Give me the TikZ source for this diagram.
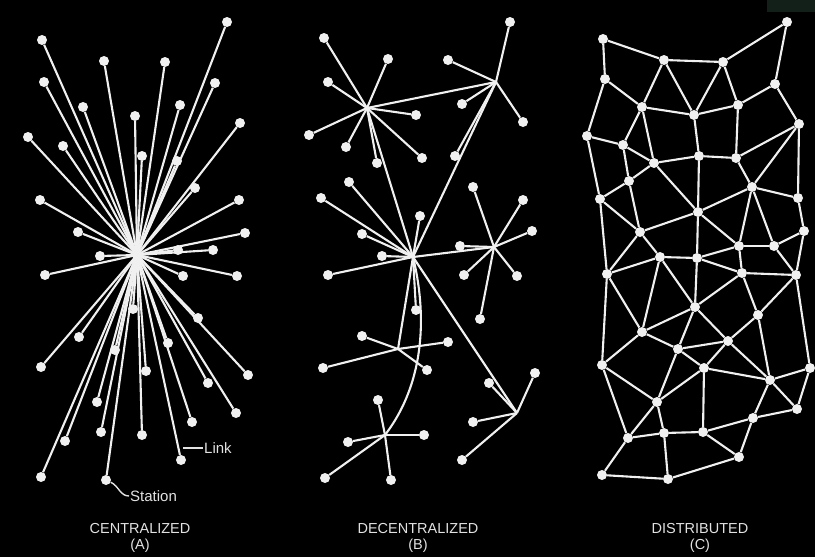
\documentclass[tikz,border=0pt]{standalone}
\usepackage{fontspec}
\setmainfont{Liberation Sans}
\usepackage{xcolor}
\usepackage{tikz}
\usetikzlibrary{positioning}
\definecolor{wire}{HTML}{F0F0F0}
\definecolor{ink}{HTML}{E2E2E2}
\definecolor{corner}{HTML}{13201A}

\begin{document}
\begin{tikzpicture}[
        x=1pt,
        y=-1pt,
        station/.style={
            circle,
            fill=wire,
            inner sep=0pt,
            minimum size=10pt
        },
        link/.style={
            wire,
            line width=2.1pt
        },
        leader/.style={
            ink,
            line width=1.4pt
        },
        tag/.style={
            ink,
            font=\fontsize{15}{16}\selectfont,
            inner sep=1pt
        },
        caption/.style={
            ink,
            align=center,
            font=\fontsize{14.5}{15.5}\selectfont
        }
    ]

    \fill[black] (0,0) rectangle (815,557);
    \useasboundingbox (0,0) rectangle (815,557);
    \fill[corner] (767,0) rectangle (815,12);

    % (A) every station wired to one centre
    \coordinate (ac) at (137,255);
    \foreach \x/\y [count=\i] in {227/22, 42/40, 104/61, 165/62, 44/82,
            215/83, 83/107, 180/105, 135/116, 240/123, 28/137, 63/146,
            142/156, 177/161, 195/188, 40/200, 239/200, 78/232, 245/233,
            100/256, 178/250, 213/250, 45/275, 183/276, 237/276, 133/309,
            198/318, 79/337, 168/343, 115/350, 41/367, 146/371, 248/375,
            208/383, 97/402, 236/413, 192/422, 101/432, 142/435, 65/441,
            181/460, 41/477, 106/480}{
        \node[station] (a\i) at (\x,\y) {};
        \draw[link] (ac) -- (a\i);
    }
    \fill[wire] (ac) circle (5pt);

    \coordinate (linkpt) at (183,448);
    \node[tag, right=20pt of linkpt] (linktag) {Link};
    \draw[leader] (linkpt) -- (linktag);
    \node[tag, anchor=west] (stationtag) at (129,496) {Station};
    \draw[leader] (a43) to[out=-25,in=180] (stationtag.west);

    % (B) clusters around a few hubs
    \coordinate (b1) at (367,108);
    \coordinate (b2) at (496,82);
    \coordinate (b3) at (413,257);
    \coordinate (b4) at (494,247);
    \coordinate (b5) at (398,349);
    \coordinate (b6) at (385,435);
    \coordinate (b7) at (517,413);
    \foreach \h/\x/\y [count=\i] in {b1/324/38, b1/388/59, b1/328/82,
            b1/309/135, b1/346/147, b1/377/163, b1/416/115, b1/422/158,
            b2/510/22, b2/448/60, b2/462/104, b2/523/122, b2/455/156,
            b3/349/182, b3/321/198, b3/420/216, b3/362/234, b3/382/256,
            b3/328/275, b3/416/310, b4/473/187, b4/523/200, b4/532/231,
            b4/460/246, b4/464/275, b4/517/276, b4/480/319, b5/362/336,
            b5/448/342, b5/323/368, b5/427/370, b6/378/400, b6/348/442,
            b6/424/435, b6/325/478, b6/391/480, b7/535/373, b7/489/383,
            b7/473/422, b7/462/460}{
        \node[station] (bs\i) at (\x,\y) {};
        \draw[link] (\h) -- (bs\i);
    }
    \draw[link] (b1) -- (b2);
    \draw[link] (b1) -- (b3);
    \draw[link] (b2) -- (b3);
    \draw[link] (b3) -- (b4);
    \draw[link] (b3) -- (b5);
    \draw[link] (b3) -- (b7);
    \draw[link] (b3) .. controls (426,310) and (427,380) .. (b6);

    % (C) mesh
    \foreach \x/\y [count=\i] in {603/39, 664/60, 723/62, 787/22, 605/79,
            775/84, 642/107, 694/115, 738/105, 587/136, 799/124, 623/145,
            654/163, 699/156, 736/158, 629/181, 752/187, 600/199, 798/198,
            698/212, 640/232, 804/231, 739/246, 774/246, 660/257, 697/258,
            607/274, 742/273, 796/275, 695/307, 758/315, 642/332, 728/341,
            678/349, 602/365, 704/368, 810/368, 770/380, 657/402, 797/409,
            753/418, 628/438, 664/433, 703/432, 739/457, 602/475, 668/479}{
        \node[station] (c\i) at (\x,\y) {};
    }
    \foreach \a/\b in {1/2, 2/3, 3/4, 1/5, 4/6, 5/7, 5/10, 2/7, 2/8, 3/8,
            3/9, 7/8, 8/9, 9/6, 6/11, 7/12, 7/13, 8/14, 9/15, 10/12, 10/18,
            12/13, 12/16, 13/14, 13/16, 13/20, 14/15, 14/20, 15/11, 15/17,
            11/17, 11/19, 16/18, 16/21, 17/19, 17/20, 17/23, 17/24, 18/21,
            18/27, 21/20, 21/25, 21/27, 20/26, 20/23, 19/22, 22/24, 22/29,
            23/24, 23/26, 23/28, 24/29, 25/26, 25/27, 25/30, 25/32, 26/28,
            26/30, 27/32, 27/35, 28/29, 28/30, 28/31, 29/31, 29/37, 30/32,
            30/33, 30/34, 31/33, 31/38, 32/34, 32/35, 33/34, 33/36, 33/38,
            34/36, 34/39, 35/39, 35/42, 36/38, 36/39, 36/44, 37/38, 37/40,
            38/40, 38/41, 39/42, 39/43, 40/41, 41/44, 41/45, 42/43, 42/46,
            43/44, 43/47, 44/45, 46/47, 45/47}{
        \draw[link] (c\a) -- (c\b);
    }

    \node[caption] (capA) at (140,538) {CENTRALIZED\\(A)};
    \node[caption] (capB) at (418,538) {DECENTRALIZED\\(B)};
    \node[caption] (capC) at (700,538) {DISTRIBUTED\\(C)};

\end{tikzpicture}
\end{document}
